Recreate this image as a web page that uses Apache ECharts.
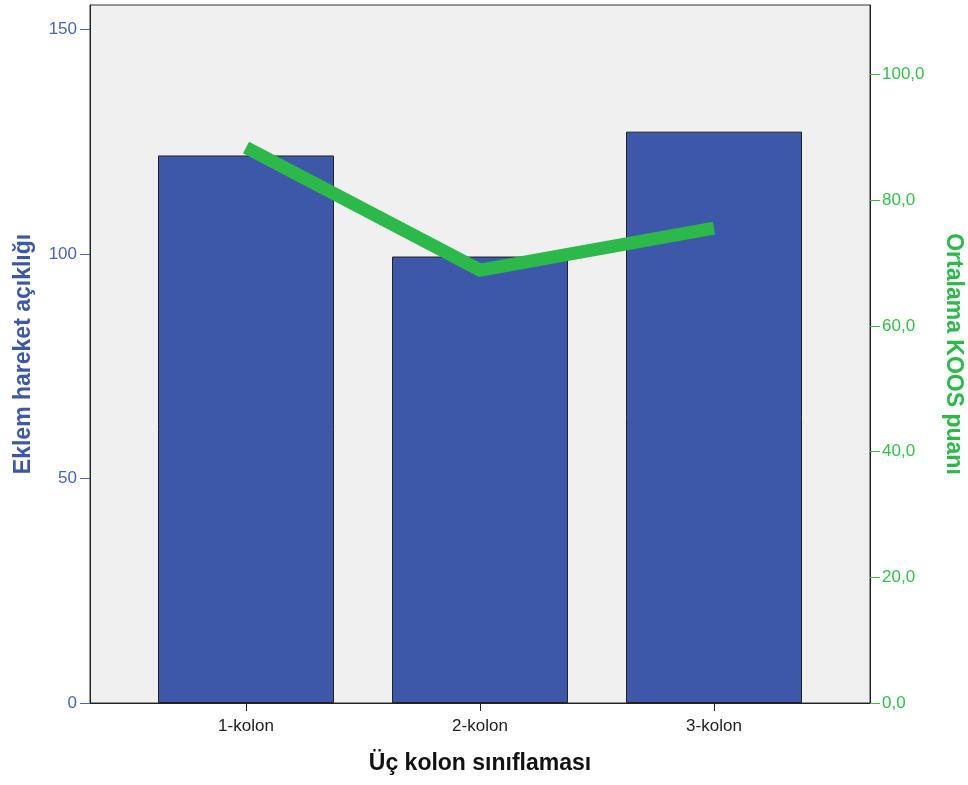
<!DOCTYPE html>
<html>
<head>
<meta charset="utf-8">
<script src="https://cdn.jsdelivr.net/npm/echarts@6/dist/echarts.min.js"></script>
<style>html,body{margin:0;padding:0;background:#fff;}#c{width:968px;height:785px;}</style>
</head>
<body>
<div id="c"></div>
<script>
const categories = ['1-kolon', '2-kolon', '3-kolon'];
const eklemValues = [121.9, 99.4, 127.2];
const koosValues = [88.4, 68.9, 75.6];
const leftTicks = [0, 50, 100, 150];
const rightTicks = [0, 20, 40, 60, 80, 100];
const categoryPositions = [1, 2, 3];

const chart = echarts.init(document.getElementById('c'), null, {renderer: 'canvas'});
const FONT = 'Liberation Sans, Arial, sans-serif';
chart.setOption({
  animation: false,
  backgroundColor: '#ffffff',
  grid: {left: 90, right: 98, top: 5, bottom: 82, containLabel: false, outerBoundsMode: 'none',
    show: true, backgroundColor: '#f0f0f0', borderColor: '#333', borderWidth: 1},
  xAxis: {
    type: 'value',
    min: 1 / 3, max: 11 / 3,
    name: 'Üç kolon sınıflaması',
    nameLocation: 'middle',
    nameGap: 49,
    nameTextStyle: {fontFamily: FONT, fontWeight: 'bold', fontSize: 23, color: '#111'},
    axisLine: {show: true, lineStyle: {color: '#222', width: 1}},
    axisTick: {show: true, length: 8, customValues: categoryPositions, lineStyle: {color: '#222'}},
    axisLabel: {customValues: categoryPositions, fontFamily: FONT, fontSize: 17, color: '#222', margin: 15,
      formatter: v => categories[Math.round(v) - 1] || ''},
    splitLine: {show: false}
  },
  yAxis: [
    {
      type: 'value', min: 0, max: 155.4, position: 'left',
      name: 'Eklem hareket açıklığı',
      nameLocation: 'middle', nameGap: 55,
      nameTextStyle: {fontFamily: FONT, fontWeight: 'bold', fontSize: 23, color: '#3d58a9'},
      axisLine: {show: true, lineStyle: {color: '#222', width: 1}},
      axisTick: {show: true, length: 10, customValues: leftTicks, lineStyle: {color: '#4a63b8'}},
      axisLabel: {customValues: leftTicks, fontFamily: FONT, fontSize: 17, color: '#4a63b8', margin: 13},
      splitLine: {show: false}
    },
    {
      type: 'value', min: 0, max: 111.1, position: 'right',
      name: 'Ortalama KOOS puanı',
      nameLocation: 'middle', nameGap: 72, nameRotate: -90,
      nameTextStyle: {fontFamily: FONT, fontWeight: 'bold', fontSize: 23, color: '#2db84a'},
      axisLine: {show: true, lineStyle: {color: '#222', width: 1}},
      axisTick: {show: true, length: 10, customValues: rightTicks, lineStyle: {color: '#33c04a'}},
      axisLabel: {customValues: rightTicks, fontFamily: FONT, fontSize: 17, color: '#33c04a', margin: 12,
        formatter: v => v.toFixed(1).replace('.', ',')},
      splitLine: {show: false}
    }
  ],
  series: [
    {
      type: 'bar', yAxisIndex: 0,
      data: categories.map((c, i) => [categoryPositions[i], eklemValues[i]]),
      barWidth: 176,
      itemStyle: {color: '#3d58a9', borderColor: '#222', borderWidth: 1}
    },
    {
      type: 'line', yAxisIndex: 1,
      data: categories.map((c, i) => [categoryPositions[i], koosValues[i]]),
      symbol: 'none', z: 5,
      lineStyle: {color: '#2db84a', width: 13, cap: 'butt', join: 'miter'}
    }
  ]
});
</script>
</body>
</html>
